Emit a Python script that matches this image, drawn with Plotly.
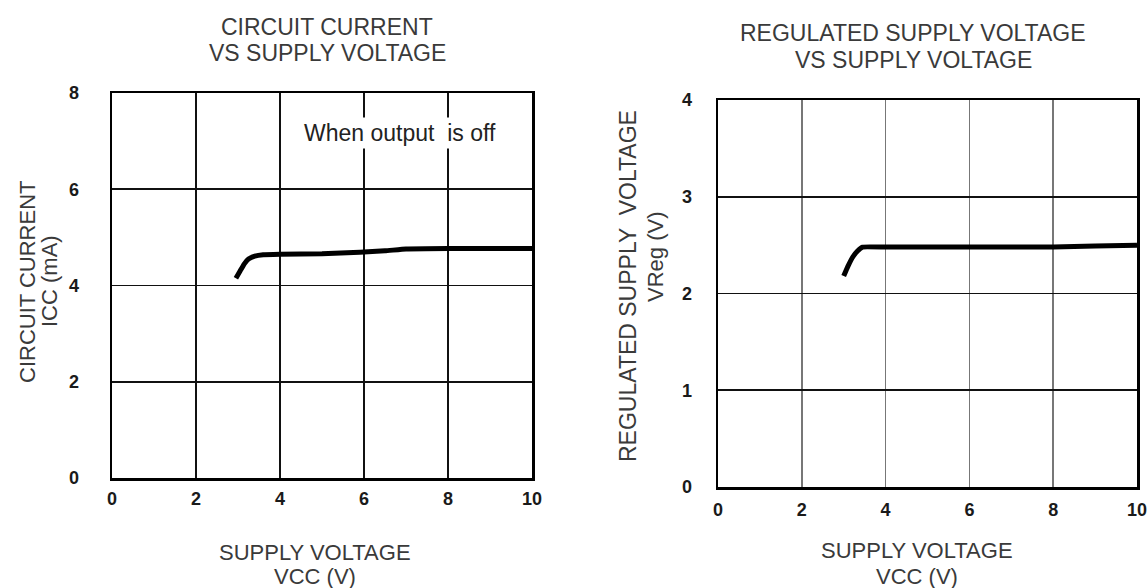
import plotly.graph_objects as go

# ---- data ----
x_ticks = [0, 2, 4, 6, 8, 10]
icc_ticks = [0, 2, 4, 6, 8]
vreg_ticks = [0, 1, 2, 3, 4]

icc_vcc = [2.95, 3.05, 3.15, 3.25, 3.4, 3.6, 4.0, 5.0, 5.9, 6.5, 7.0, 8.0, 9.0, 10.0]
icc_ma = [4.15, 4.30, 4.45, 4.55, 4.61, 4.64, 4.65, 4.66, 4.69, 4.72, 4.76, 4.77, 4.77, 4.77]

vreg_vcc = [3.0, 3.1, 3.22, 3.33, 3.45, 4.0, 6.0, 8.0, 9.0, 10.0]
vreg_v = [2.18, 2.28, 2.38, 2.44, 2.48, 2.48, 2.48, 2.48, 2.49, 2.50]

W, H = 1170, 588          # a little wider than the window so the last tick label is not clipped
FONT = "Liberation Sans, Arial, sans-serif"
TITLE_C = "#3a3a3a"

fig = go.Figure()
fig.add_trace(go.Scatter(x=icc_vcc, y=icc_ma, mode="lines",
                         line=dict(color="black", width=5, shape="spline", smoothing=0.3),
                         xaxis="x", yaxis="y", showlegend=False, hoverinfo="skip"))
fig.add_trace(go.Scatter(x=vreg_vcc, y=vreg_v, mode="lines",
                         line=dict(color="black", width=5, shape="spline", smoothing=0.3),
                         xaxis="x2", yaxis="y2", showlegend=False, hoverinfo="skip"))

def px_x(p):
    return p / W

def px_y(p):
    return 1 - p / H

tickfont = dict(family=FONT, size=18, color="#1a1a1a", weight="bold")

common = dict(showline=True, linecolor="black", linewidth=2.5, mirror=True,
              zeroline=False, showgrid=True, ticks="", tickfont=tickfont,
              fixedrange=True)

fig.update_layout(
    width=W, height=H,
    margin=dict(l=0, r=0, t=0, b=0, pad=0, autoexpand=False),
    paper_bgcolor="white", plot_bgcolor="white",
    hovermode=False,
    xaxis=dict(domain=[px_x(112), px_x(532)], range=[0, 10], tickvals=x_ticks,
               gridcolor="#111111", gridwidth=1.8, ticklabelstandoff=3,
               anchor="y", **common),
    yaxis=dict(domain=[px_y(478), px_y(93)], range=[0, 8], tickvals=icc_ticks,
               gridcolor="#111111", gridwidth=1.8, ticklabelstandoff=27,
               anchor="x", **common),
    xaxis2=dict(domain=[px_x(718), px_x(1137)], range=[0, 10], tickvals=x_ticks,
                gridcolor="#777777", gridwidth=1.5, ticklabelstandoff=5,
                anchor="y2", **common),
    yaxis2=dict(domain=[px_y(487), px_y(100)], range=[0, 4], tickvals=vreg_ticks,
                gridcolor="#111111", gridwidth=1.8, ticklabelstandoff=20,
                anchor="x2", **common),
)

def ann(text, x, y, angle=0, size=23):
    fig.add_annotation(text=text, x=px_x(x), y=px_y(y), xref="paper", yref="paper",
                       showarrow=False, font=dict(family=FONT, size=size, color=TITLE_C),
                       textangle=angle, xanchor="center", yanchor="middle", align="center")

# chart titles
ann("CIRCUIT CURRENT", 327, 27)
ann("VS SUPPLY VOLTAGE", 327, 53)
ann("REGULATED SUPPLY VOLTAGE", 913, 33)
ann("VS SUPPLY VOLTAGE", 913, 60)
# x-axis titles
ann("SUPPLY VOLTAGE", 315, 552, size=22)
ann("VCC (V)", 315, 576, size=22)
ann("SUPPLY VOLTAGE", 917, 550, size=22)
ann("VCC (V)", 917, 576, size=22)
# y-axis titles
ann("CIRCUIT CURRENT", 27, 282, -90, 22)
ann("ICC (mA)", 50, 281, -90, 22)
ann("REGULATED SUPPLY  VOLTAGE", 628, 286, -90, 23)
ann("VReg (V)", 655, 257, -90, 22)

# in-plot note
fig.add_annotation(text="When output  is off", x=6.86, y=7.17, xref="x", yref="y",
                   showarrow=False, bgcolor="white", borderpad=2,
                   font=dict(family=FONT, size=23, color="#222222"))

fig.write_html("out.html",
               config={"displayModeBar": False, "staticPlot": True},
               post_script="document.body.style.margin='0';document.body.style.overflow='hidden';")
